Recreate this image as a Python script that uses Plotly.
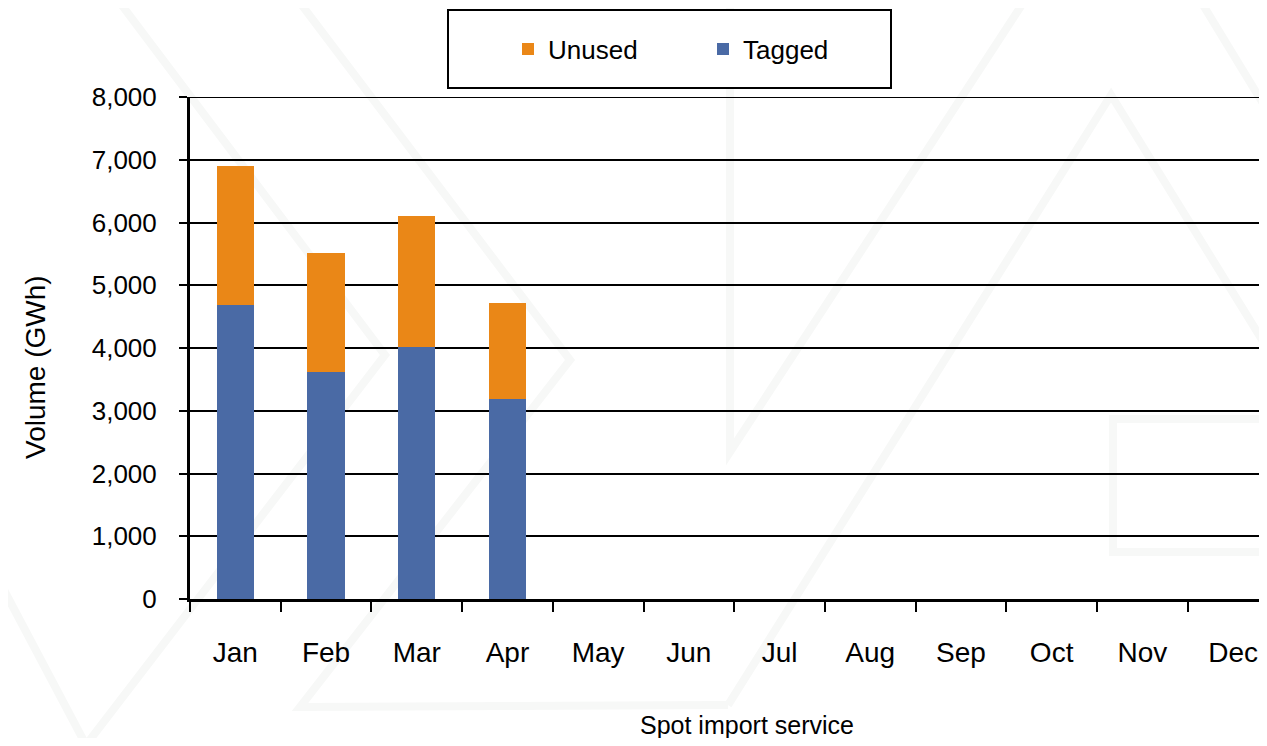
import plotly.graph_objects as go

months = ['Jan', 'Feb', 'Mar', 'Apr', 'May', 'Jun', 'Jul', 'Aug', 'Sep', 'Oct', 'Nov', 'Dec']
tagged = [4680, 3617, 4011, 3182, None, None, None, None, None, None, None, None]
unused = [2220, 1892, 2093, 1535, None, None, None, None, None, None, None, None]
y_ticks = [0, 1000, 2000, 3000, 4000, 5000, 6000, 7000, 8000]

FONT = "Liberation Sans, Arial, sans-serif"

# the page has an 8px body margin, so the figure is shrunk and shifted by it
OFF = 8
W, H = 1267 - 2 * OFF, 746 - 2 * OFF
# plot area in reference pixels (left, right, top, bottom)
L, R, T, B = 190, 1267 - OFF, 97, 599


def px(x, y):
    # reference pixel position -> paper coords
    return (x - L) / (R - L), (B - y) / (B - T)


fig = go.Figure()
fig.add_trace(go.Bar(name="Tagged", x=months, y=tagged,
                     marker=dict(color="#4A6AA5", line=dict(width=0))))
fig.add_trace(go.Bar(name="Unused", x=months, y=unused,
                     marker=dict(color="#EA8717", line=dict(width=0))))

# faint background watermark
wm = [
    [(118, 0), (385, 355), (86, 745)],
    [(4, 590), (86, 745)],
    [(298, 0), (570, 360), (300, 707), (728, 705)],
    [(730, 0), (730, 452), (1025, 0)],
    [(728, 705), (1111, 95), (1267, 348)],
    [(1200, 0), (1267, 110)],
    [(1267, 419), (1113, 419), (1113, 552), (1267, 552)],
]
for pts in wm:
    path = ""
    for i, (a, b) in enumerate(pts):
        xp, yp = px(a, b)
        path += ("M" if i == 0 else "L") + f"{xp:.4f},{yp:.4f} "
    fig.add_shape(type="path", path=path, xref="paper", yref="paper",
                  line=dict(color="#F7F8F7", width=8), layer="below")

# top gridline at 8000
fig.add_shape(type="line", xref="paper", yref="y", x0=0, x1=1,
              y0=y_ticks[-1], y1=y_ticks[-1], line=dict(color="black", width=2))

# legend box
x0, y0 = px(448, 88)
x1, y1 = px(891, 10)
fig.add_shape(type="rect", xref="paper", yref="paper", x0=x0, x1=x1, y0=y0, y1=y1,
              line=dict(color="black", width=2), fillcolor="white", layer="above")

lx, ly = px(508, 49)
tx, ty = px(747, 725)
yx, yy = px(35, 367)
fig.add_annotation(text="Spot import service", xref="paper", yref="paper", x=tx, y=ty,
                   showarrow=False, font=dict(size=25), xanchor="center", yanchor="middle")
fig.add_annotation(text="Volume (GWh)", xref="paper", yref="paper", x=yx, y=yy,
                   showarrow=False, font=dict(size=28), textangle=-90,
                   xanchor="center", yanchor="middle")

fig.update_layout(
    barmode="stack",
    bargap=0.59,
    width=W, height=H,
    margin=dict(l=L - OFF, r=W - (R - OFF), t=T - OFF, b=H - (B - OFF), autoexpand=False),
    paper_bgcolor="white", plot_bgcolor="rgba(0,0,0,0)",
    font=dict(family=FONT, color="black"),
    showlegend=True,
    legend=dict(orientation="h", traceorder="reversed",
                x=lx, xanchor="left", y=ly, yanchor="middle",
                font=dict(size=26, family=FONT), entrywidth=150,
                bgcolor="rgba(0,0,0,0)", borderwidth=0),
    xaxis=dict(range=[-0.5, -0.5 + (R - L) / 90.7], showline=True, linecolor="black", linewidth=3,
               ticks="outside", tickson="boundaries", ticklen=10, tickwidth=2,
               tickcolor="black", tickfont=dict(size=28), ticklabelstandoff=26,
               showgrid=False),
    yaxis=dict(range=[0, 8000], tickvals=y_ticks, tickformat=",d",
               showline=True, linecolor="black", linewidth=3,
               ticks="outside", ticklen=8, tickwidth=2, tickcolor="black",
               tickfont=dict(size=26), ticklabelstandoff=17,
               showgrid=True, gridcolor="black", gridwidth=2, zeroline=False),
)

fig.write_html("out.html")
